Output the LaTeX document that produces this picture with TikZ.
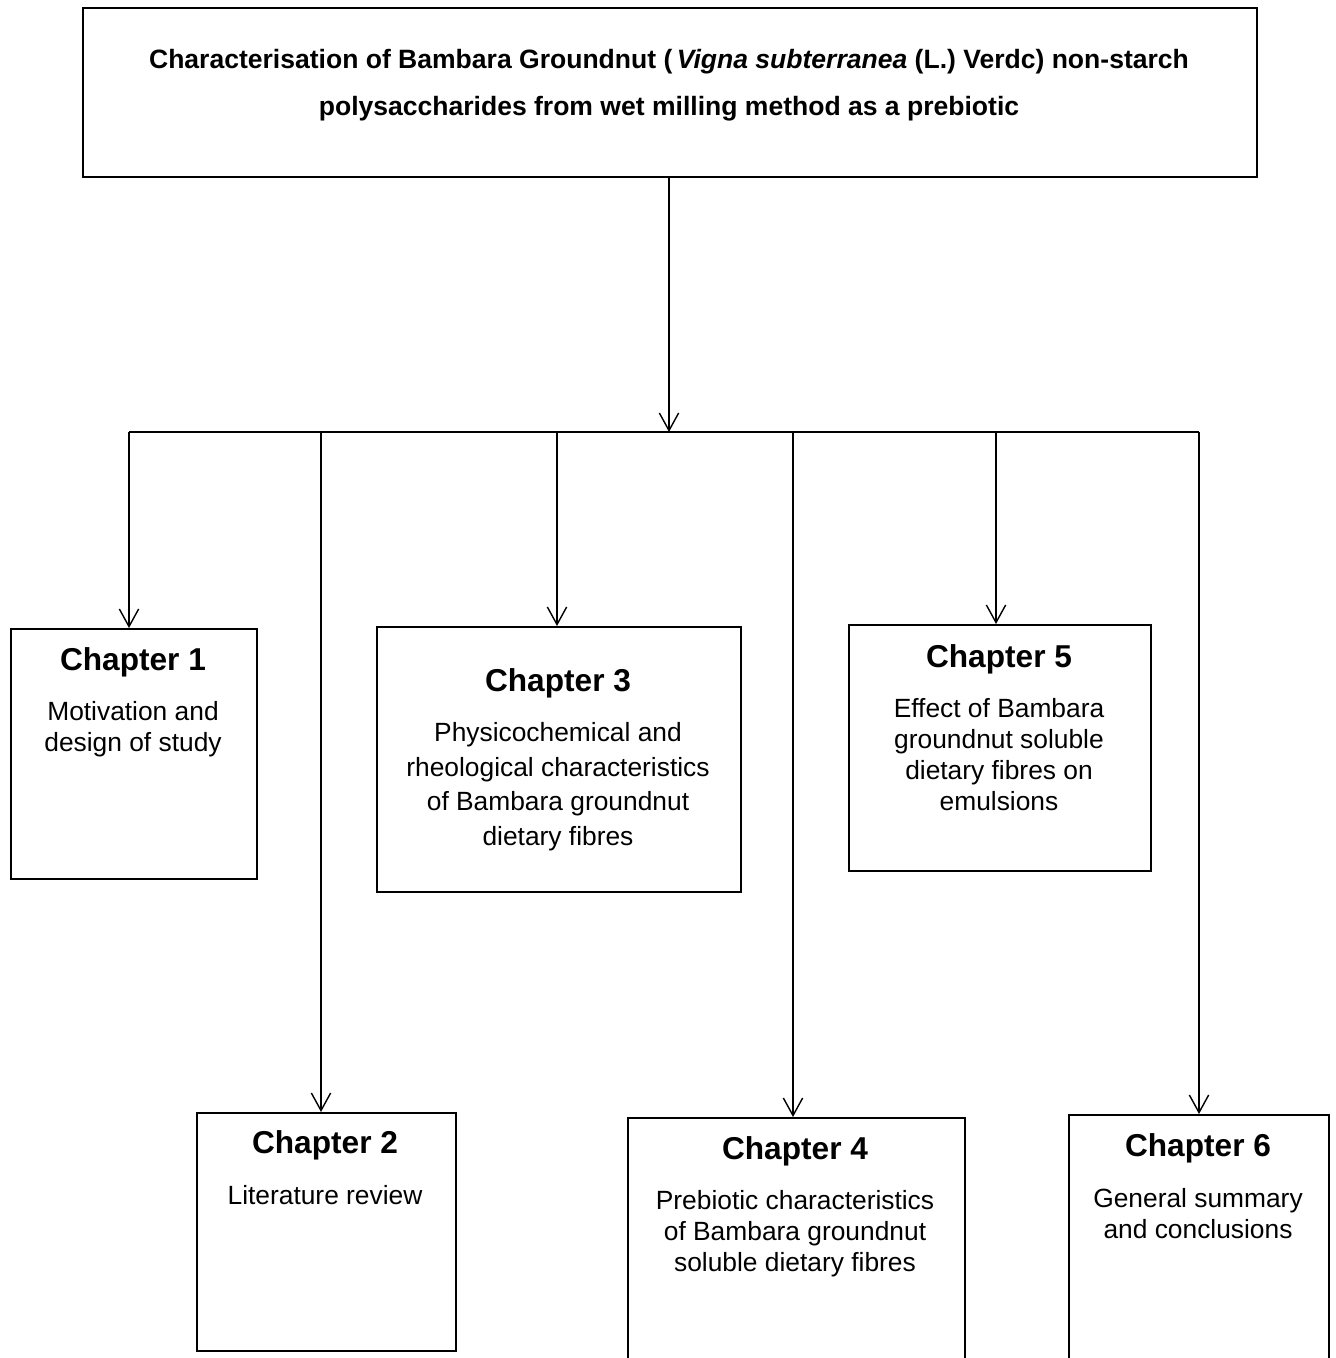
\documentclass[tikz,border=0pt]{standalone}
\usepackage{fontspec}
\setmainfont{Liberation Sans}
\usetikzlibrary{arrows.meta}
\tikzset{
  box/.style={draw, line width=1.2pt, rectangle, anchor=north west, inner sep=0pt},
  conn/.style={line width=0.8pt},
  arr/.style={conn, -{Straight Barb[length=10pt,width=11pt,line width=0.8pt]}},
  ttl/.style={anchor=base, font=\fontsize{18}{21}\selectfont\bfseries},
  body/.style={anchor=north, align=center, font=\fontsize{15}{17.6}\selectfont},
  bodyw/.style={anchor=north, align=center, font=\fontsize{15}{19.8}\selectfont},
  toptxt/.style={anchor=base, font=\fontsize{15.1}{26.6}\selectfont\bfseries},
}
\begin{document}
\begin{tikzpicture}[x=0.02cm, y=-0.02cm]
\useasboundingbox (0,0) rectangle (1335,1358);
\clip (0,0) rectangle (1335,1358);
% top box
\node[box, minimum width=1174*0.02cm, minimum height=169*0.02cm] (top) at (82,7) {};
\node[toptxt] (toptext) at (669,69)
  {Characterisation of Bambara Groundnut (\,\textit{Vigna subterranea} (L.) Verdc) non-starch};
\node[toptxt] (toptext2) at (669,116)
  {polysaccharides from wet milling method as a prebiotic};
% chapter boxes
\node[box, minimum width=246*0.02cm, minimum height=250*0.02cm] (c1) at (10,628) {};
\node[box, minimum width=259*0.02cm, minimum height=238*0.02cm] (c2) at (196,1112) {};
\node[box, minimum width=364*0.02cm, minimum height=265*0.02cm] (c3) at (376,626) {};
\node[box, minimum width=337*0.02cm, minimum height=300*0.02cm] (c4) at (627,1117) {};
\node[box, minimum width=302*0.02cm, minimum height=246*0.02cm] (c5) at (848,624) {};
\node[box, minimum width=260*0.02cm, minimum height=300*0.02cm] (c6) at (1068,1114) {};
% texts
\node[ttl] (t1) at (133,670) {Chapter 1};
\node[body] (d1) at (133,695) {Motivation and\\design of study};
\node[ttl] (t2) at (325,1153) {Chapter 2};
\node[body] (d2) at (325,1179) {Literature review};
\node[ttl] (t3) at (558,691) {Chapter 3};
\node[bodyw] (d3) at (558,716) {Physicochemical and\\rheological characteristics\\of Bambara groundnut\\dietary fibres};
\node[ttl] (t4) at (795,1159) {Chapter 4};
\node[body] (d4) at (795,1184) {Prebiotic characteristics\\of Bambara groundnut\\soluble dietary fibres};
\node[ttl] (t5) at (999,667) {Chapter 5};
\node[body] (d5) at (999,692) {Effect of Bambara\\groundnut soluble\\dietary fibres on\\emulsions};
\node[ttl] (t6) at (1198,1156) {Chapter 6};
\node[body] (d6) at (1198,1182) {General summary\\and conclusions};
% connectors
\coordinate (hub) at (669,432);
\coordinate (b1) at (129,432);
\coordinate (b2) at (321,432);
\coordinate (b3) at (557,432);
\coordinate (b4) at (793,432);
\coordinate (b5) at (996,432);
\coordinate (b6) at (1199,432);
\draw[arr] (top.south -| hub) -- (hub);
\draw[conn] (b1) -- (b6);
\draw[arr] (b1) -- (b1 |- c1.north);
\draw[arr] (b2) -- (b2 |- c2.north);
\draw[arr] (b3) -- (b3 |- c3.north);
\draw[arr] (b4) -- (b4 |- c4.north);
\draw[arr] (b5) -- (b5 |- c5.north);
\draw[arr] (b6) -- (b6 |- c6.north);
\end{tikzpicture}
\end{document}
